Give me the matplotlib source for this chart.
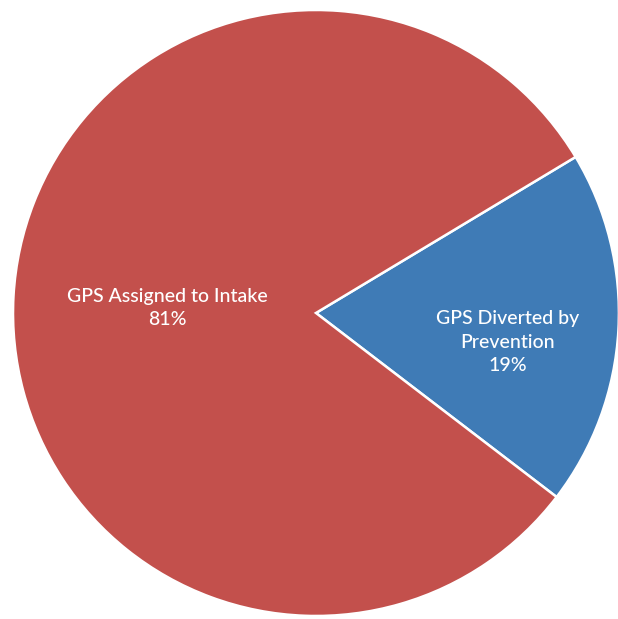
import matplotlib.pyplot as plt

# Data
labels = ['GPS Diverted by\nPrevention', 'GPS Assigned to Intake']
shares = [19, 81]
colors = ['#3F7BB6', '#C3504C']

fig = plt.figure(figsize=(6.18, 6.19), dpi=100)
ax = fig.add_axes([0, 0, 1, 1])

wedges, _ = ax.pie(shares, colors=colors, startangle=31, counterclock=False,
                   radius=1, wedgeprops=dict(edgecolor='white', linewidth=1.8))

# label positions (inside the slices)
label_pos = [(0.634, -0.096), (-0.49, 0.017)]
for lab, val, (x, y) in zip(labels, shares, label_pos):
    ax.text(x, y, f'{lab}\n{val}%', ha='center', va='center', color='white',
            fontsize=14, family='Lato', weight='medium', linespacing=1.45)

# pie is cropped at the right and bottom, as in the original
ax.set_xlim(-1.043, 0.997)
ax.set_ylim(-1.010, 1.033)
ax.set_aspect('auto')
ax.axis('off')

fig.savefig('out.png', dpi=100)
